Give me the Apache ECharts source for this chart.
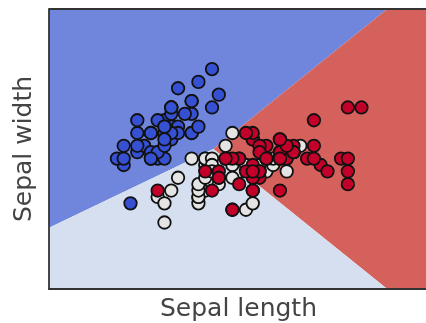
<!DOCTYPE html>
<html>
<head>
<meta charset="utf-8">
<script src="https://cdn.jsdelivr.net/npm/echarts@6/dist/echarts.min.js"></script>
<style>
  html, body { margin: 0; padding: 0; background: #fff; }
  #chart { width: 426px; height: 323px; }
</style>
</head>
<body>
<div id="chart"></div>
<script>
  // iris sepal length / sepal width, per class
  const setosa = [
    [5.1,3.5],[4.9,3.0],[4.7,3.2],[4.6,3.1],[5.0,3.6],[5.4,3.9],[4.6,3.4],[5.0,3.4],[4.4,2.9],[4.9,3.1],
    [5.4,3.7],[4.8,3.4],[4.8,3.0],[4.3,3.0],[5.8,4.0],[5.7,4.4],[5.4,3.9],[5.1,3.5],[5.7,3.8],[5.1,3.8],
    [5.4,3.4],[5.1,3.7],[4.6,3.6],[5.1,3.3],[4.8,3.4],[5.0,3.0],[5.0,3.4],[5.2,3.5],[5.2,3.4],[4.7,3.2],
    [4.8,3.1],[5.4,3.4],[5.2,4.1],[5.5,4.2],[4.9,3.1],[5.0,3.2],[5.5,3.5],[4.9,3.6],[4.4,3.0],[5.1,3.4],
    [5.0,3.5],[4.5,2.3],[4.4,3.2],[5.0,3.5],[5.1,3.8],[4.8,3.0],[5.1,3.8],[4.6,3.2],[5.3,3.7],[5.0,3.3]
  ];
  const versicolor = [
    [7.0,3.2],[6.4,3.2],[6.9,3.1],[5.5,2.3],[6.5,2.8],[5.7,2.8],[6.3,3.3],[4.9,2.4],[6.6,2.9],[5.2,2.7],
    [5.0,2.0],[5.9,3.0],[6.0,2.2],[6.1,2.9],[5.6,2.9],[6.7,3.1],[5.6,3.0],[5.8,2.7],[6.2,2.2],[5.6,2.5],
    [5.9,3.2],[6.1,2.8],[6.3,2.5],[6.1,2.8],[6.4,2.9],[6.6,3.0],[6.8,2.8],[6.7,3.0],[6.0,2.9],[5.7,2.6],
    [5.5,2.4],[5.5,2.4],[5.8,2.7],[6.0,2.7],[5.4,3.0],[6.0,3.4],[6.7,3.1],[6.3,2.3],[5.6,3.0],[5.5,2.5],
    [5.5,2.6],[6.1,3.0],[5.8,2.6],[5.0,2.3],[5.6,2.7],[5.7,3.0],[5.7,2.9],[6.2,2.9],[5.1,2.5],[5.7,2.8]
  ];
  const virginica = [
    [6.3,3.3],[5.8,2.7],[7.1,3.0],[6.3,2.9],[6.5,3.0],[7.6,3.0],[4.9,2.5],[7.3,2.9],[6.7,2.5],[7.2,3.6],
    [6.5,3.2],[6.4,2.7],[6.8,3.0],[5.7,2.5],[5.8,2.8],[6.4,3.2],[6.5,3.0],[7.7,3.8],[7.7,2.6],[6.0,2.2],
    [6.9,3.2],[5.6,2.8],[7.7,2.8],[6.3,2.7],[6.7,3.3],[7.2,3.2],[6.2,2.8],[6.1,3.0],[6.4,2.8],[7.2,3.0],
    [7.4,2.8],[7.9,3.8],[6.4,2.8],[6.3,2.8],[6.1,2.6],[7.7,3.0],[6.3,3.4],[6.4,3.1],[6.0,3.0],[6.9,3.1],
    [6.7,3.1],[6.9,3.1],[5.8,2.7],[6.8,3.2],[6.7,3.3],[6.7,3.0],[6.3,2.5],[6.5,3.0],[6.2,3.4],[5.9,3.0]
  ];

  // decision regions (polygons in data units)
  const xMin = 3.3, xMax = 8.88, yMin = 0.96, yMax = 5.34;
  const regionSetosa = [[3.3,5.34],[8.28,5.34],[5.72,3.15],[3.3,1.92]];
  const regionVirginica = [[8.28,5.34],[8.88,5.34],[8.88,0.96],[8.28,0.96],[5.72,3.15]];
  const regionVersicolor = [[3.3,1.92],[5.72,3.15],[8.28,0.96],[3.3,0.96]];

  const chart = echarts.init(document.getElementById('chart'));

  function regionSeries(points, color) {
    return {
      type: 'custom',
      silent: true,
      z: 1,
      data: [0],
      renderItem: function (params, api) {
        return {
          type: 'polygon',
          shape: { points: points.map(p => api.coord(p)) },
          style: { fill: color }
        };
      }
    };
  }

  function scatterSeries(data, color) {
    return {
      type: 'scatter',
      z: 3,
      data: data,
      symbolSize: 12.5,
      itemStyle: { color: color, borderColor: '#111', borderWidth: 1.8, opacity: 1 }
    };
  }

  chart.setOption({
    animation: false,
    grid: { left: 49, top: 9, right: -2, bottom: 34, outerBoundsMode: 'none' },
    xAxis: {
      type: 'value', min: xMin, max: xMax, z: 10,
      name: 'Sepal length', nameLocation: 'middle', nameGap: 8,
      nameTextStyle: { fontFamily: 'DejaVu Sans', fontSize: 25, color: '#444' },
      axisLine: { show: true, onZero: false, lineStyle: { color: '#333', width: 1.8 } },
      axisTick: { show: false }, axisLabel: { show: false }, splitLine: { show: false }
    },
    yAxis: {
      type: 'value', min: yMin, max: yMax, z: 10,
      name: 'Sepal width', nameLocation: 'middle', nameGap: 12,
      nameTextStyle: { fontFamily: 'DejaVu Sans', fontSize: 25, color: '#444' },
      axisLine: { show: true, onZero: false, lineStyle: { color: '#333', width: 1.8 } },
      axisTick: { show: false }, axisLabel: { show: false }, splitLine: { show: false }
    },
    series: [
      regionSeries(regionSetosa, '#6f86dc'),
      regionSeries(regionVirginica, '#d5615c'),
      regionSeries(regionVersicolor, '#d5dff0'),
      scatterSeries(setosa, '#3650d2'),
      scatterSeries(versicolor, '#e4e4e4'),
      scatterSeries(virginica, '#c2002a')
    ],
    graphic: [{
      type: 'line', z: 100,
      shape: { x1: 49, y1: 9, x2: 426, y2: 9 },
      style: { stroke: '#333', lineWidth: 1.8 }
    }]
  });
</script>
</body>
</html>
